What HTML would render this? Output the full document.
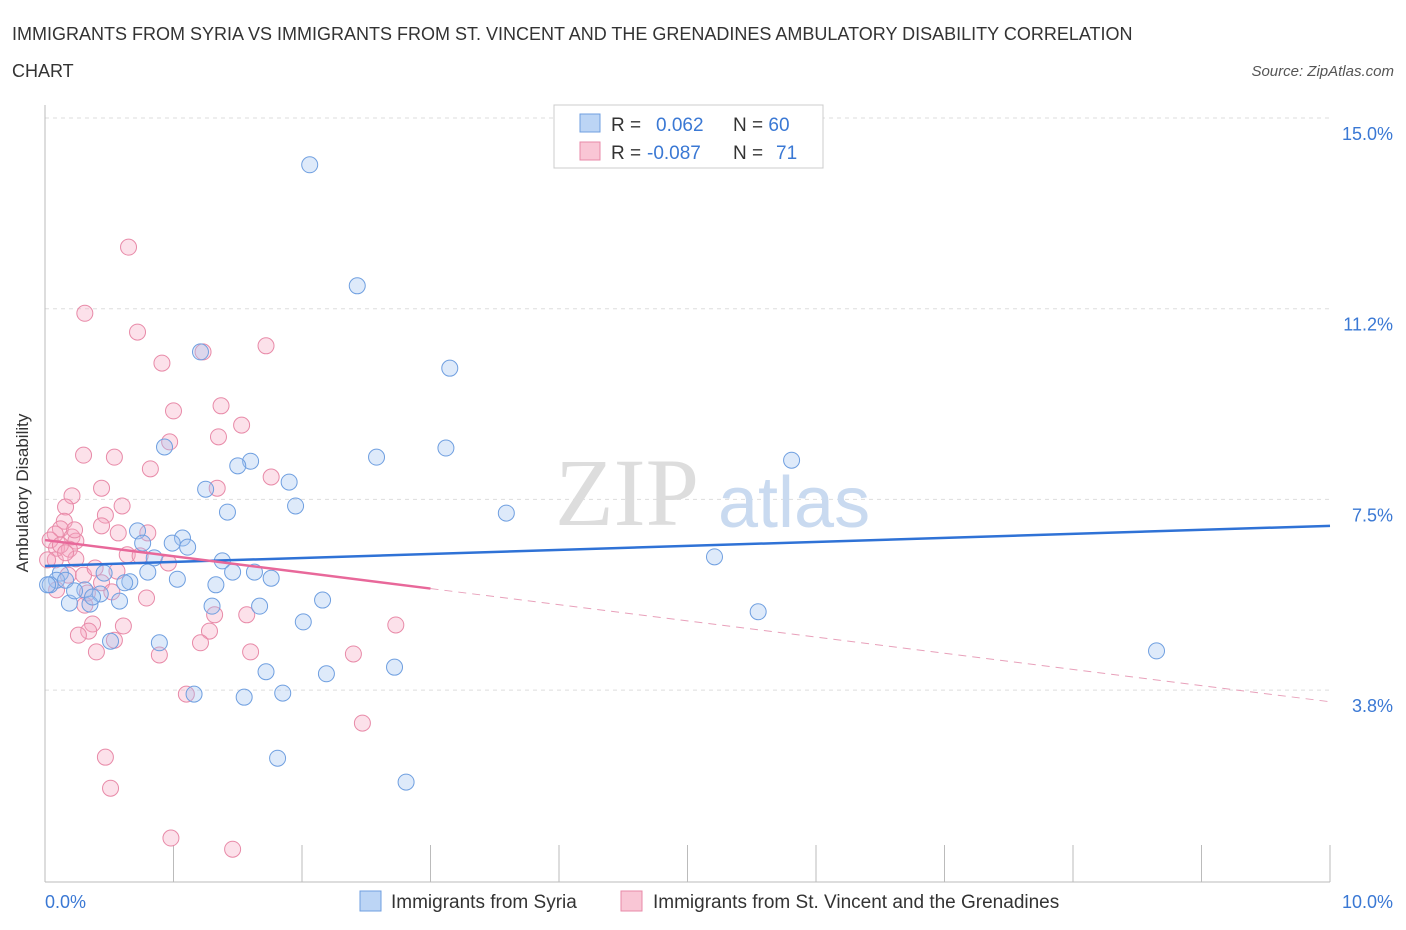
<!DOCTYPE html>
<html><head><meta charset="utf-8"><style>
body{margin:0;background:#fff;font-family:"Liberation Sans",sans-serif;}
svg{display:block}
</style></head><body>
<svg id="chart" width="1406" height="930">
<text x="12" y="40" font-size="18" fill="#333">IMMIGRANTS FROM SYRIA VS IMMIGRANTS FROM ST. VINCENT AND THE GRENADINES AMBULATORY DISABILITY CORRELATION</text>
<text x="12" y="77" font-size="18" fill="#333">CHART</text>
<text x="1394" y="76" font-size="15" fill="#555" text-anchor="end" font-style="italic">Source: ZipAtlas.com</text>
<g id="grid"></g>
<text x="555" y="525" font-size="96" fill="#ddd" font-family="Liberation Serif,serif">ZIP</text>
<text x="718" y="527" font-size="72" fill="#c9daf0">atlas</text>
<line x1="45" y1="105" x2="45" y2="882" stroke="#bbb"/>
<line x1="45" y1="882" x2="1330" y2="882" stroke="#bbb"/>
<g id="ticks"></g>
<g id="marks"></g>
<text x="28" y="493" font-size="17" fill="#333" text-anchor="middle" transform="rotate(-90 28 493)">Ambulatory Disability</text>
<text x="45" y="908" font-size="18" fill="#3a78d4">0.0%</text>
<text x="1393" y="908" font-size="18" fill="#3a78d4" text-anchor="end">10.0%</text>
<g>
<rect x="554" y="105" width="269" height="63" fill="#fff" stroke="#ccc"/>
<rect x="580" y="114" width="20" height="18" fill="#bcd5f5" stroke="#6f9fe0"/>
<rect x="580" y="142" width="20" height="18" fill="#f9c6d5" stroke="#e88aa8"/>
<text x="611" y="131" font-size="19" fill="#333">R = <tspan fill="#3a78d4" x="656">0.062</tspan><tspan x="733">N = </tspan><tspan fill="#3a78d4">60</tspan></text>
<text x="611" y="159" font-size="19" fill="#333">R = <tspan fill="#3a78d4" x="647">-0.087</tspan><tspan x="733">N = </tspan><tspan fill="#3a78d4" x="776">71</tspan></text>
</g>
<g>
<rect x="360" y="891" width="21" height="20" fill="#bcd5f5" stroke="#6f9fe0"/>
<text x="391" y="908" font-size="19" fill="#333">Immigrants from Syria</text>
<rect x="621" y="891" width="21" height="20" fill="#f9c6d5" stroke="#e88aa8"/>
<text x="653" y="908" font-size="19" fill="#333">Immigrants from St. Vincent and the Grenadines</text>
</g>
</svg>
<script>
const yTicks=[15,11.25,7.5,3.75];
const yTickLabels=["15.0%","11.2%","7.5%","3.8%"];
const xTicks=[0,1,2,3,4,5,6,7,8,9,10];
const syriaX=[2.06,2.43,1.21,3.15,0.93,3.12,2.58,5.81,1.60,1.50,1.90,1.25,1.95,1.42,3.59,0.72,1.07,0.99,0.76,1.11,0.85,5.21,1.38,0.12,0.80,1.46,1.63,1.76,0.46,1.03,0.09,0.04,0.66,0.62,1.33,0.31,0.43,0.58,0.35,0.19,2.16,1.30,1.67,5.55,2.01,0.51,0.89,8.65,2.72,1.72,2.19,1.16,1.85,1.55,1.81,2.81,0.02,0.16,0.23,0.37];
const syriaY=[14.08,11.70,10.40,10.08,8.53,8.51,8.33,8.27,8.25,8.16,7.84,7.70,7.37,7.25,7.23,6.88,6.74,6.64,6.64,6.56,6.35,6.37,6.29,6.05,6.07,6.07,6.07,5.95,6.05,5.93,5.91,5.82,5.88,5.86,5.82,5.72,5.64,5.50,5.44,5.46,5.52,5.40,5.40,5.29,5.09,4.71,4.68,4.52,4.20,4.11,4.07,3.67,3.69,3.61,2.41,1.94,5.82,5.91,5.70,5.58];
const svgX=[0.65,0.31,0.72,0.91,1.72,1.23,1.37,1.00,1.53,0.97,1.35,0.30,0.54,0.82,1.76,1.34,0.44,0.21,0.60,0.16,0.47,0.15,0.44,0.12,0.08,0.57,0.80,0.21,0.24,0.09,0.19,0.64,0.24,0.96,0.08,0.56,0.18,0.30,0.44,0.09,0.52,0.33,0.79,0.31,1.57,1.32,2.73,0.61,0.37,0.34,1.28,0.26,0.54,1.21,0.40,1.60,0.89,2.40,1.10,2.47,0.47,0.51,0.98,1.46,0.04,0.02,0.12,0.23,0.39,0.74,0.16];
const svgY=[12.46,11.16,10.79,10.18,10.52,10.40,9.34,9.24,8.96,8.63,8.73,8.37,8.33,8.10,7.94,7.72,7.72,7.57,7.37,7.35,7.19,7.07,6.98,6.92,6.82,6.84,6.84,6.76,6.68,6.54,6.52,6.41,6.33,6.25,6.31,6.09,6.01,6.01,5.86,5.72,5.68,5.66,5.56,5.42,5.23,5.23,5.03,5.01,5.05,4.91,4.91,4.83,4.73,4.68,4.50,4.50,4.44,4.46,3.67,3.10,2.43,1.82,0.84,0.62,6.70,6.31,6.60,6.90,6.15,6.39,6.45];
const syriaTrend=[6.19,6.98];
const svgTrend=[6.70,3.52];
const svgSolidEnd=[3.0];
const NS="http://www.w3.org/2000/svg";
const X=v=>45+v*128.5, Y=v=>118+(15-v)*50.85;
function mk(tag,attrs,parent){const e=document.createElementNS(NS,tag);for(const k in attrs)e.setAttribute(k,attrs[k]);parent.appendChild(e);return e;}
const grid=document.getElementById('grid'),ticks=document.getElementById('ticks'),marks=document.getElementById('marks');
yTicks.forEach((t,i)=>{
 const l=mk('line',{x1:45,x2:1330,y1:Y(t),y2:Y(t),stroke:'#ddd','stroke-dasharray':'4,4'},grid);
 
 
 const tx=mk('text',{x:1393,y:Y(t)+22,'font-size':18,fill:'#3a78d4','text-anchor':'end'},grid);
 tx.textContent=yTickLabels[i];
 
 
});
xTicks.forEach(t=>{
 const l=mk('line',{x1:X(t),x2:X(t),y1:845,y2:882,stroke:'#bbb'},ticks);
 
 
});
svgX.forEach((x,i)=>{
 const c=mk('circle',{cx:X(x),cy:Y(svgY[i]),r:8,fill:'rgba(245,170,195,0.35)',stroke:'#e88aa8','stroke-width':1},marks);
 
 
});
syriaX.forEach((x,i)=>{
 const c=mk('circle',{cx:X(x),cy:Y(syriaY[i]),r:8,fill:'rgba(160,195,240,0.35)',stroke:'#6f9fe0','stroke-width':1},marks);
 
 
});
const bl=mk('line',{x1:X(0),y1:Y(syriaTrend[0]),x2:X(10),y2:Y(syriaTrend[1]),stroke:'#2f72d6','stroke-width':2.5},marks);


const slope=(svgTrend[1]-svgTrend[0])/10, ym=svgTrend[0]+slope*svgSolidEnd[0];
const pl=mk('line',{x1:X(0),y1:Y(svgTrend[0]),x2:X(svgSolidEnd[0]),y2:Y(ym),stroke:'#e8689a','stroke-width':2.5},marks);


const pd=mk('line',{x1:X(svgSolidEnd[0]),y1:Y(ym),x2:X(10),y2:Y(svgTrend[1]),stroke:'#e8a0ba','stroke-width':1,'stroke-dasharray':'8,6'},marks);


</script>
</body></html>
